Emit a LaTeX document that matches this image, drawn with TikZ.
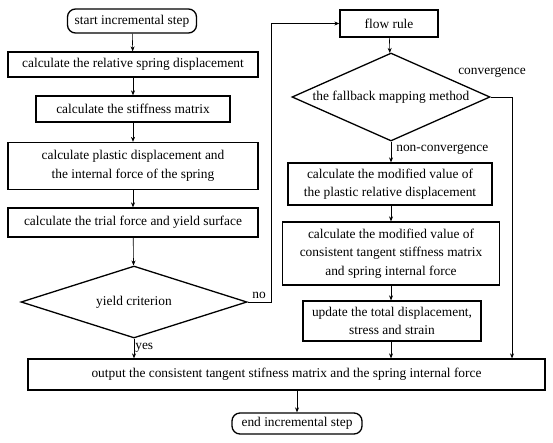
\documentclass[tikz,border=0pt]{standalone}
\usepackage{fontspec}
\setmainfont{Liberation Serif}
\usetikzlibrary{shapes.geometric,arrows.meta}
\begin{document}
\begin{tikzpicture}[x=1pt,y=-1pt,
  every node/.style={font=\fontsize{13.4}{18.5}\selectfont},
  box/.style={draw,line width=1.3pt,inner sep=0pt,align=center},
  term/.style={box,rounded corners=8pt},
  dia/.style={draw,line width=1.3pt,diamond,inner sep=0pt,align=center},
  conn/.style={line width=0.6pt,-{Stealth[length=5pt,width=4pt]}},
  lab/.style={inner sep=1pt}]
\useasboundingbox (0,0) rectangle (553,442);
\node[term,minimum width=129pt,minimum height=24pt] (start) at (132,21) {start incremental step};
\node[box,minimum width=250pt,minimum height=25pt] (b1) at (133,64.5) {calculate the relative spring displacement};
\node[box,minimum width=194pt,minimum height=26pt] (b2) at (133,109) {calculate the stiffness matrix};
\node[box,minimum width=250pt,minimum height=47pt] (b3) at (133,166) {calculate plastic displacement and\\the internal force of the spring};
\node[box,minimum width=250pt,minimum height=29pt] (b4) at (133,222.5) {calculate the trial force and yield surface};
\node[dia,shape aspect=3.14,minimum width=226pt,minimum height=72pt] (d1) at (134,302) {yield criterion};
\node[box,minimum width=98pt,minimum height=27pt] (flow) at (389,23.5) {flow rule};
\node[dia,shape aspect=2.25,minimum width=198pt,minimum height=88pt] (d2) at (391,97) {the fallback mapping method};
\node[box,minimum width=204pt,minimum height=42pt] (b5) at (390,184) {calculate the modified value of\\the plastic relative displacement};
\node[box,minimum width=217pt,minimum height=63pt] (b6) at (391,253.5) {calculate the modified value of\\consistent tangent stiffness matrix\\and spring internal force};
\node[box,minimum width=178pt,minimum height=40pt] (b7) at (392,321) {update the total displacement,\\stress and strain};
\node[box,minimum width=517pt,minimum height=31pt] (out) at (286.5,374.5) {output the consistent tangent stifness matrix and the spring internal force};
\node[term,minimum width=130pt,minimum height=21pt] (end) at (297,423.5) {end incremental step};
\coordinate (nc1) at (271,302);
\coordinate (nc2) at (271,23.5);
\coordinate (cv1) at (512,97);
\draw[conn] (start) -- (b1);
\draw[conn] (b1) -- (b2);
\draw[conn] (b2) -- (b3);
\draw[conn] (b3) -- (b4);
\draw[conn] (b4) -- (d1);
\draw[conn] (d1.south) -- (d1.south |- out.north) node[lab,pos=0.45,right] {yes};
\draw[conn] (d1.east) -- (nc1) -- (nc2) -- (flow.west);
\node[lab,anchor=south east] (nolab) at (267,300) {no};
\draw[conn] (flow) -- (d2);
\draw[conn] (d2.south) -- (b5.north -| d2.south) node[lab,pos=0.4,right,xshift=4pt] {non-convergence};
\draw[conn] (d2.east) -- (cv1) -- (cv1 |- out.north);
\node[lab] (cvlab) at (492,73) {convergence};
\draw[conn] (b5.south -| b6.north) -- (b6.north);
\draw[conn] (b6.south) -- (b6.south |- b7.north);
\draw[conn] (b6.south |- b7.south) -- (b6.south |- out.north);
\draw[conn] (out.south -| end.north) -- (end.north);
\end{tikzpicture}
\end{document}
